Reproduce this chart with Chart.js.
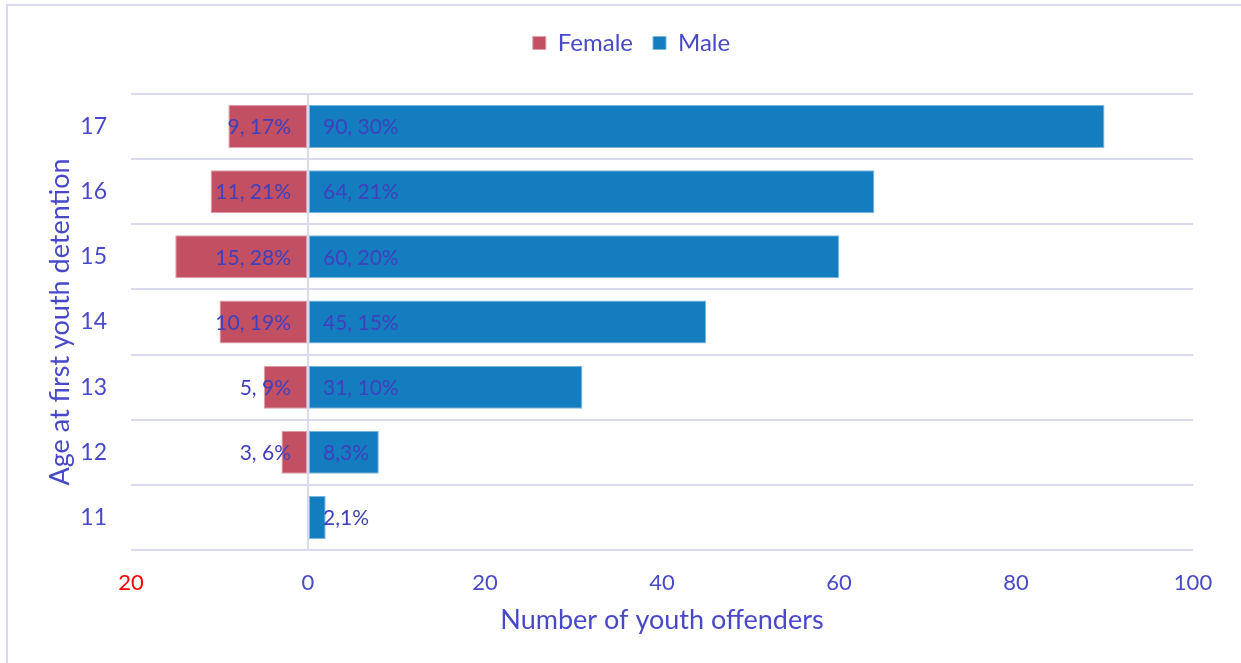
<!DOCTYPE html>
<html lang="en">
<head>
    <meta charset="UTF-8">
    <title>Age at first youth detention</title>
    <script src="https://cdn.jsdelivr.net/npm/chart.js"></script>
    <style>
        html, body { margin: 0; padding: 0; background: #fff; overflow: hidden; }
        .wrap { position: relative; width: 1241px; height: 663px; }
        .frame {
            position: absolute; left: 6px; top: 4px;
            width: 1300px; height: 700px;
            border: 2px solid #D9D9F0;
            pointer-events: none;
        }
    </style>
</head>
<body>
    <div class="wrap">
        <canvas id="myChart" width="1241" height="663"></canvas>
        <div class="frame"></div>
    </div>

    <script>
        // age groups, top row first
        const ages = ['17', '16', '15', '14', '13', '12', '11'];

        const femaleCounts = [9, 11, 15, 10, 5, 3, 0];
        const femalePct = ['17%', '21%', '28%', '19%', '9%', '6%', null];

        const maleCounts = [90, 64, 60, 45, 31, 8, 2];
        const malePct = [' 30%', ' 21%', ' 20%', ' 15%', ' 10%', '3%', '1%'];

        const xTicks = [-20, 0, 20, 40, 60, 80, 100];

        const textColor = '#4848C8';
        const labelColor = '#4040BC';
        const gridColor = '#D9D9F0';

        Chart.defaults.font.family = 'Lato';

        // extra room between the legend and the plot, legend nudged right
        const legendGap = {
            id: 'legendGap',
            beforeInit(chart) {
                const fit = chart.legend.fit;
                chart.legend.fit = function () {
                    fit.bind(chart.legend)();
                    this.height += 29;
                };
            },
            afterLayout(chart) {
                chart.legend.left += 30;
            }
        };

        // writes "count, share" next to the zero line for every bar
        const barLabels = {
            id: 'barLabels',
            afterDatasetsDraw(chart) {
                const ctx = chart.ctx;
                const zero = chart.scales.x.getPixelForValue(0);
                ctx.save();
                ctx.font = '21px Lato';
                ctx.fillStyle = labelColor;
                ctx.textBaseline = 'middle';
                chart.data.datasets.forEach((ds, i) => {
                    chart.getDatasetMeta(i).data.forEach((bar, j) => {
                        const text = ds.valueLabels[j];
                        if (!text) return;
                        const onLeft = ds.data[j] < 0;
                        ctx.textAlign = onLeft ? 'right' : 'left';
                        ctx.fillText(text, onLeft ? zero - 17 : zero + 15, bar.y + 1);
                    });
                });
                ctx.restore();
            }
        };

        const ctx = document.getElementById('myChart').getContext('2d');
        new Chart(ctx, {
            type: 'bar',
            data: {
                labels: ages,
                datasets: [{
                    label: 'Female',
                    data: femaleCounts.map(v => -v),
                    valueLabels: femaleCounts.map((v, i) => femalePct[i] ? `${v}, ${femalePct[i]}` : null),
                    backgroundColor: '#C25062',
                    borderColor: '#D9A0AA',
                    borderWidth: 1,
                    borderSkipped: false
                }, {
                    label: 'Male',
                    data: maleCounts,
                    valueLabels: maleCounts.map((v, i) => `${v},${malePct[i]}`),
                    backgroundColor: '#147DC0',
                    borderColor: '#7DB6DC',
                    borderWidth: 1,
                    borderSkipped: false
                }]
            },
            options: {
                indexAxis: 'y',
                responsive: false,
                animation: false,
                barPercentage: 0.66,
                categoryPercentage: 1,
                layout: {
                    padding: { left: 40, right: 48, top: 11, bottom: 23 }
                },
                plugins: {
                    tooltip: { enabled: false },
                    legend: {
                        position: 'top',
                        labels: {
                            color: textColor,
                            font: { size: 24 },
                            boxWidth: 13,
                            boxHeight: 13,
                            padding: 20
                        }
                    }
                },
                scales: {
                    x: {
                        stacked: true,
                        min: -20,
                        max: 100,
                        z: 1,
                        afterBuildTicks: scale => {
                            scale.ticks = xTicks.map(v => ({ value: v }));
                        },
                        afterFit: scale => { scale.height = 90; },
                        border: { display: false },
                        grid: {
                            drawTicks: false,
                            lineWidth: 2,
                            color: c => c.tick && c.tick.value === 0 ? gridColor : 'rgba(0,0,0,0)'
                        },
                        ticks: {
                            padding: 20,
                            font: { size: 22 },
                            color: c => c.tick && c.tick.value < 0 ? '#FF0000' : textColor,
                            callback: v => Math.abs(v)
                        },
                        title: {
                            display: true,
                            text: 'Number of youth offenders',
                            color: textColor,
                            font: { size: 27 }
                        }
                    },
                    y: {
                        stacked: true,
                        afterFit: scale => { scale.width = 91; },
                        border: { display: false },
                        grid: {
                            drawTicks: false,
                            lineWidth: 2,
                            color: gridColor
                        },
                        ticks: {
                            padding: 24,
                            font: { size: 23 },
                            color: textColor
                        },
                        title: {
                            display: true,
                            text: 'Age at first youth detention',
                            color: textColor,
                            font: { size: 27 }
                        }
                    }
                }
            },
            plugins: [legendGap, barLabels]
        });
    </script>
</body>
</html>
